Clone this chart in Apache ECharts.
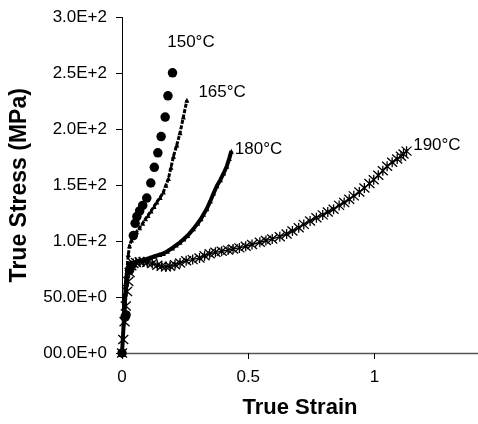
<!DOCTYPE html>
<html>
<head>
<meta charset="utf-8">
<script src="https://cdn.jsdelivr.net/npm/echarts@6/dist/echarts.min.js"></script>
<style>
html,body{margin:0;padding:0;background:#fff;}
#chart{width:478px;height:424px;}
</style>
</head>
<body>
<div id="chart"></div>
<script>
var seriesNames = ['150°C', '165°C', '180°C', '190°C'];
var xTicks = [0, 0.5, 1];
var yTickLabels = ['00.0E+0', '50.0E+0', '1.0E+2', '1.5E+2', '2.0E+2', '2.5E+2', '3.0E+2'];

var data150 = [[0,0],[0.012,32],[0.016,34],[0.03,74],[0.037,78],[0.045,105],[0.052,116],[0.059,122],[0.07,127],[0.082,132],[0.098,138.5],[0.114,152],[0.128,166],[0.142,179],[0.155,193.5],[0.171,211],[0.182,230],[0.2,250.5]];

var data165 = [[0,0],[0.004,12],[0.008,28],[0.012,45],[0.016,62],[0.02,76],[0.025,88],[0.03,96],[0.038,101],[0.048,105],[0.058,108.5],[0.07,112],[0.082,116],[0.093,120],[0.103,123],[0.115,127],[0.127,131],[0.138,135],[0.151,139],[0.164,144],[0.174,150],[0.184,156],[0.194,166],[0.204,176],[0.217,186],[0.230,197],[0.243,211],[0.257,226]];

var data180 = [[0,0],[0.004,15],[0.008,32],[0.012,50],[0.016,64],[0.02,73],[0.026,78],[0.035,80],[0.05,81],[0.071,82.5],[0.09,83.5],[0.11,85],[0.13,86.5],[0.15,88],[0.164,89],[0.18,91],[0.2,94],[0.215,96.5],[0.23,99],[0.245,102],[0.26,105],[0.283,111],[0.3,116],[0.313,120],[0.323,124],[0.336,129],[0.35,136],[0.363,143],[0.376,149.6],[0.39,155],[0.403,161],[0.415,167],[0.425,174],[0.433,180.5]];

var data190 = [[0,0],[0.005,12],[0.01,28],[0.015,42],[0.02,55],[0.025,64],[0.03,72],[0.037,78],[0.045,80],[0.055,81],[0.07,81.5],[0.085,81.5],[0.1,81],[0.12,80],[0.14,78.5],[0.157,77.5],[0.174,77],[0.19,77.5],[0.21,79],[0.23,80.5],[0.254,82.5],[0.28,83.5],[0.307,85],[0.327,87],[0.347,88.7],[0.37,90],[0.395,91],[0.42,92],[0.44,93],[0.465,94],[0.49,95.5],[0.515,97],[0.546,99],[0.57,100.5],[0.595,102],[0.625,104],[0.652,106.5],[0.675,109],[0.7,112],[0.72,115],[0.745,118],[0.77,121],[0.795,123.5],[0.815,126],[0.838,128.6],[0.86,132],[0.88,134.5],[0.9,137.5],[0.918,140.5],[0.94,144],[0.96,147.5],[0.98,151.5],[0.997,155],[1.015,159],[1.033,163],[1.05,167],[1.07,170.5],[1.09,173.5],[1.105,176],[1.115,178],[1.127,180.5]];

var FONT = '"Liberation Sans", Arial, sans-serif';

function withEndLabel(arr, name, offset) {
  return arr.map(function (p, i) {
    if (i === arr.length - 1) {
      return {
        value: p,
        label: {
          show: true, formatter: name, position: 'right', distance: 0,
          offset: offset, color: '#000', fontSize: 17, fontFamily: FONT
        }
      };
    }
    return p;
  });
}

var asterisk = 'path://M0,-5L0,5M-4.5,-4.5L4.5,4.5M-4.5,4.5L4.5,-4.5';

var chart = echarts.init(document.getElementById('chart'), null, {renderer: 'canvas'});
chart.setOption({
  backgroundColor: '#fff',
  animation: false,
  grid: {left: 122, top: 17.5, right: 0, bottom: 68.7, containLabel: false},
  xAxis: [{
    type: 'value', min: 0, max: 1.41, interval: 0.5,
    name: 'True Strain', nameLocation: 'middle', nameGap: 44,
    nameTextStyle: {fontSize: 22, fontWeight: 'bold', color: '#000', fontFamily: FONT},
    axisLine: {show: true, onZero: false, lineStyle: {color: '#000', width: 1}},
    axisTick: {show: true, inside: false, length: 6, customValues: xTicks, lineStyle: {color: '#000'}},
    axisLabel: {show: true, margin: 16, fontSize: 17, color: '#000', fontFamily: FONT, customValues: xTicks},
    splitLine: {show: false}
  }, {
    type: 'value', min: 0, max: 1.41, position: 'top',
    axisLine: {show: true, lineStyle: {color: '#555', width: 1.3}},
    axisTick: {show: false}, axisLabel: {show: false}, splitLine: {show: false}
  }],
  yAxis: {
    type: 'value', min: 0, max: 300, interval: 50,
    name: 'True Stress (MPa)', nameLocation: 'middle', nameGap: 91,
    nameTextStyle: {fontSize: 23, fontWeight: 'bold', color: '#000', fontFamily: FONT},
    axisLine: {show: true, onZero: false, lineStyle: {color: '#000', width: 1}},
    axisTick: {show: true, inside: false, length: 6, lineStyle: {color: '#000'}},
    axisLabel: {
      show: true, margin: 15, fontSize: 17, color: '#000', fontFamily: FONT,
      formatter: function (v) { return yTickLabels[Math.round(v / 50)]; }
    },
    splitLine: {show: false}
  },
  series: [
    {
      name: seriesNames[0], type: 'line', data: withEndLabel(data150, seriesNames[0], [-10, -31]),
      symbol: 'circle', symbolSize: 9.5, showAllSymbol: true,
      lineStyle: {width: 0, opacity: 0},
      itemStyle: {color: '#000'}, z: 4
    },
    {
      name: seriesNames[1], type: 'line', data: withEndLabel(data165, seriesNames[1], [9, -8]),
      symbol: 'triangle', symbolSize: 5, showAllSymbol: true,
      lineStyle: {width: 3, color: '#000', type: [4, 1.5]},
      itemStyle: {color: '#000'}, z: 3
    },
    {
      name: seriesNames[2], type: 'line', data: withEndLabel(data180, seriesNames[2], [1, -2]),
      symbol: 'triangle', symbolSize: 5, showAllSymbol: true,
      lineStyle: {width: 4, color: '#000'},
      itemStyle: {color: '#000'}, z: 3
    },
    {
      name: seriesNames[3], type: 'line', data: withEndLabel(data190, seriesNames[3], [1, -6]),
      symbol: asterisk, symbolSize: 10, showAllSymbol: true,
      lineStyle: {width: 1.4, color: '#000'},
      itemStyle: {color: '#000', borderColor: '#000', borderWidth: 1.3}, z: 2
    }
  ]
});
</script>
</body>
</html>
